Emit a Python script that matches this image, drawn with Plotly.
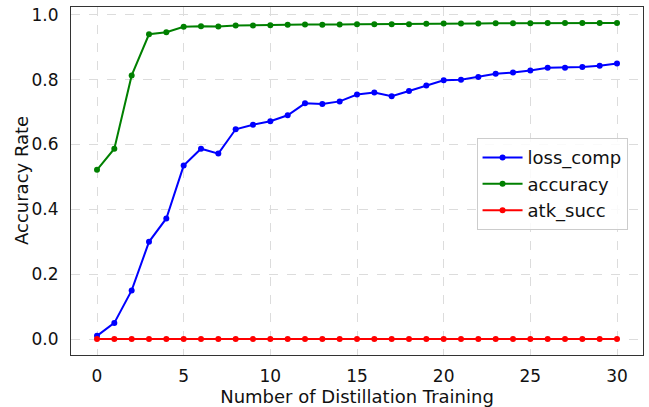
import plotly.graph_objects as go

x_vals = list(range(31))
loss_comp = [0.010, 0.050, 0.150, 0.300, 0.372, 0.535, 0.587, 0.572, 0.647, 0.661,
             0.672, 0.690, 0.727, 0.725, 0.733, 0.754, 0.760, 0.749, 0.765, 0.782,
             0.798, 0.800, 0.808, 0.818, 0.822, 0.828, 0.837, 0.837, 0.839, 0.843, 0.850]
accuracy = [0.522, 0.587, 0.813, 0.940, 0.946, 0.963, 0.965, 0.964, 0.967, 0.967,
            0.968, 0.969, 0.970, 0.969, 0.970, 0.971, 0.971, 0.971, 0.971, 0.972,
            0.973, 0.973, 0.973, 0.974, 0.974, 0.974, 0.975, 0.975, 0.975, 0.975, 0.975]
atk_succ = [0.0] * 31

series = [("loss_comp", loss_comp, "#0000ff"),
          ("accuracy", accuracy, "#008000"),
          ("atk_succ", atk_succ, "#ff0000")]

fig = go.Figure()
for name, vals, col in series:
    fig.add_trace(go.Scatter(x=x_vals, y=vals, name=name, mode="lines+markers",
                             line=dict(color=col, width=2),
                             marker=dict(color=col, size=6)))

font = "DejaVu Sans, Arial, sans-serif"
axis_common = dict(showline=True, linecolor="#333333", linewidth=1, mirror=True,
                   showgrid=True, gridcolor="#dcdcdc", griddash="dash", gridwidth=1,
                   zeroline=False, ticks="", automargin=False,
                   tickfont=dict(size=17, color="#111111", family=font))

fig.update_layout(
    width=649, height=407,
    margin=dict(l=71, r=6, t=7, b=52),
    paper_bgcolor="white", plot_bgcolor="white",
    font=dict(family=font, color="#111111"),
    xaxis=dict(range=[-1.5, 31.5], tickvals=[0, 5, 10, 15, 20, 25, 30],
               ticklabelstandoff=6,
               title=dict(text="Number of Distillation Training", font=dict(size=18), standoff=2),
               **axis_common),
    yaxis=dict(range=[-0.049, 1.024], tickvals=[0, 0.2, 0.4, 0.6, 0.8, 1.0],
               tickformat=".1f", ticklabelstandoff=8,
               **axis_common),
    legend=dict(x=0.709, y=0.623, xanchor="left", yanchor="top",
                bgcolor="rgba(255,255,255,0.85)", bordercolor="#cccccc", borderwidth=1,
                font=dict(size=18, family=font), itemwidth=40),
    showlegend=True,
)
fig.add_annotation(text="Accuracy Rate", xref="paper", yref="paper", x=0, y=0.5,
                   xanchor="center", yanchor="middle", xshift=-50, textangle=-90,
                   showarrow=False, font=dict(size=18, family=font, color="#111111"))

fig.write_html("out.html", config={"displayModeBar": False},
               post_script="document.body.style.margin='0';")
